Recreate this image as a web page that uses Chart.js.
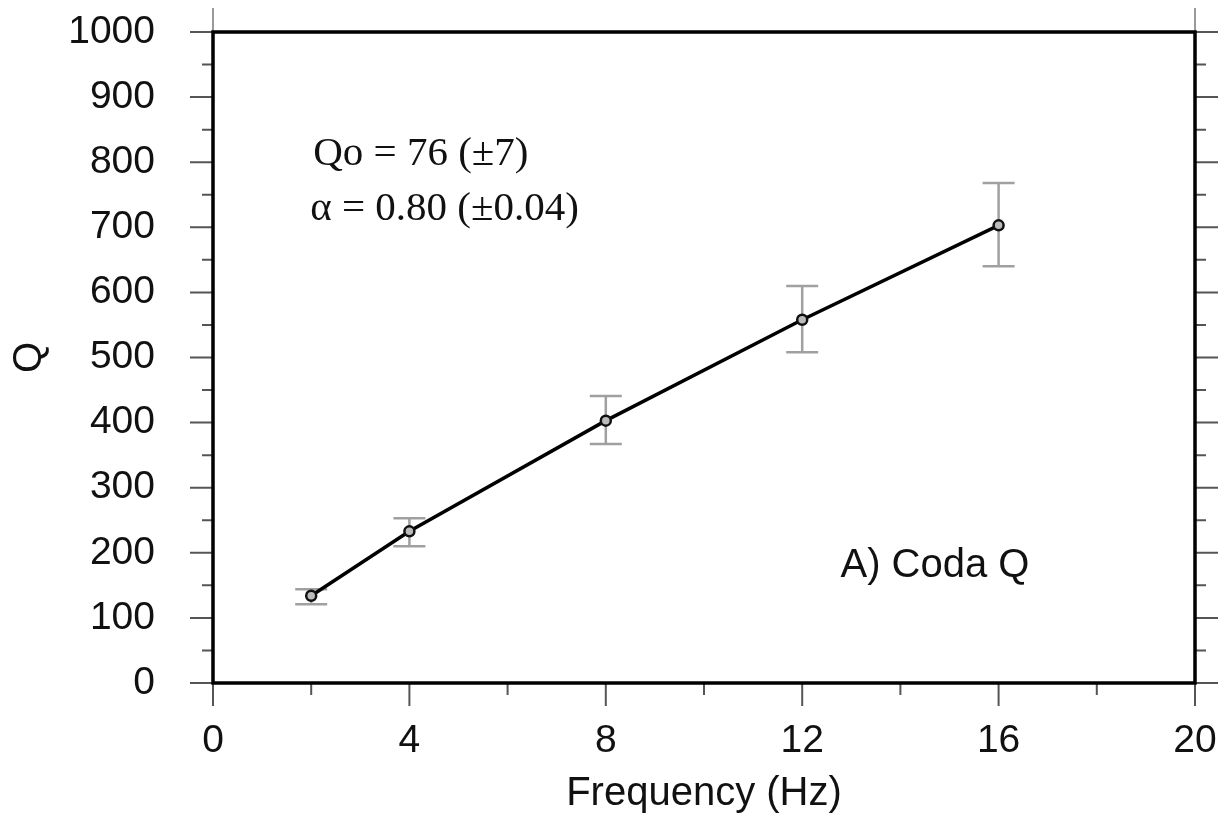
<!DOCTYPE html>
<html>
<head>
<meta charset="utf-8">
<script src="https://cdn.jsdelivr.net/npm/chart.js@4.4.1/dist/chart.umd.min.js"></script>
<style>
  html, body { margin: 0; padding: 0; background: #ffffff; }
  #wrap { width: 1226px; height: 820px; position: relative; }
</style>
</head>
<body>
<div id="wrap"><canvas id="c" width="1226" height="820"></canvas></div>
<script>
// ---- data ----
const frequencies = [2, 4, 8, 12, 16];
const qValues     = [134, 233, 403, 558, 703];
const qLower      = [121, 210, 367, 508, 640];
const qUpper      = [144, 253, 441, 610, 768];
const xTickLabels = [0, 4, 8, 12, 16, 20];
const yTickLabels = [0, 100, 200, 300, 400, 500, 600, 700, 800, 900, 1000];
const fitLines    = ["Qo = 76 (±7)", "α = 0.80 (±0.04)"];
const panelLabel  = "A) Coda Q";

const SANS = "'Liberation Sans', Arial, Helvetica, sans-serif";
const SERIF = "'Liberation Serif', 'Times New Roman', serif";

const errorBarPlugin = {
  id: 'errorBars',
  beforeDatasetsDraw(chart) {
    const ctx = chart.ctx, xs = chart.scales.x, ys = chart.scales.y;
    ctx.save();
    ctx.strokeStyle = '#a0a0a0';
    ctx.lineWidth = 2.5;
    frequencies.forEach((f, i) => {
      const px = xs.getPixelForValue(f);
      const pLo = ys.getPixelForValue(qLower[i]);
      const pHi = ys.getPixelForValue(qUpper[i]);
      ctx.beginPath();
      ctx.moveTo(px, pLo); ctx.lineTo(px, pHi);
      ctx.moveTo(px - 16, pLo); ctx.lineTo(px + 16, pLo);
      ctx.moveTo(px - 16, pHi); ctx.lineTo(px + 16, pHi);
      ctx.stroke();
    });
    ctx.restore();
  }
};

const frameTicksPlugin = {
  id: 'frameTicks',
  afterDraw(chart) {
    const ctx = chart.ctx, a = chart.chartArea;
    const xs = chart.scales.x, ys = chart.scales.y;
    ctx.save();
    // ticks
    ctx.strokeStyle = '#555';
    ctx.lineWidth = 2;
    ctx.beginPath();
    for (let v = 0; v <= 1000; v += 50) {
      const py = ys.getPixelForValue(v);
      const len = (v % 100 === 0) ? 23 : 11;
      ctx.moveTo(a.left - len, py); ctx.lineTo(a.left, py);
      ctx.moveTo(a.right, py); ctx.lineTo(a.right + len, py);
    }
    for (let v = 0; v <= 20; v += 2) {
      const px = xs.getPixelForValue(v);
      const len = (v % 4 === 0) ? 23 : 12;
      ctx.moveTo(px, a.bottom); ctx.lineTo(px, a.bottom + len);
    }
    ctx.stroke();
    ctx.strokeStyle = '#9a9a9a';
    ctx.beginPath();
    [0, 20].forEach(v => {
      const px = xs.getPixelForValue(v);
      ctx.moveTo(px, a.top - 24); ctx.lineTo(px, a.top);
    });
    ctx.stroke();
    // frame
    ctx.strokeStyle = '#000';
    ctx.lineWidth = 3.5;
    ctx.strokeRect(a.left, a.top, a.right - a.left, a.bottom - a.top);
    // annotations
    ctx.fillStyle = '#111';
    ctx.textBaseline = 'alphabetic';
    ctx.textAlign = 'left';
    ctx.font = "41px " + SERIF;
    ctx.fillText(fitLines[0], xs.getPixelForValue(2.04), ys.getPixelForValue(795));
    ctx.fillText(fitLines[1], xs.getPixelForValue(1.98), ys.getPixelForValue(711));
    ctx.font = "40px " + SANS;
    ctx.fillText(panelLabel, xs.getPixelForValue(12.78), ys.getPixelForValue(163));
    ctx.restore();
  }
};

new Chart(document.getElementById('c'), {
  type: 'line',
  data: {
    datasets: [{
      data: frequencies.map((f, i) => ({ x: f, y: qValues[i] })),
      borderColor: '#000',
      borderWidth: 3.5,
      pointRadius: 5,
      pointBorderWidth: 2.5,
      pointBorderColor: '#111',
      pointBackgroundColor: '#bbb',
      tension: 0,
      fill: false
    }]
  },
  options: {
    responsive: false,
    animation: false,
    devicePixelRatio: 1,
    layout: { padding: { top: 32, left: 0, right: 0, bottom: 0 } },
    plugins: { legend: { display: false }, tooltip: { enabled: false } },
    scales: {
      x: {
        type: 'linear', min: 0, max: 20,
        ticks: {
          stepSize: 2,
          autoSkip: false,
          maxRotation: 0,
          padding: 12,
          color: '#111',
          font: { family: SANS, size: 39 },
          callback: v => xTickLabels.includes(v) ? String(v) : ''
        },
        grid: { drawOnChartArea: false, tickLength: 23, tickColor: 'rgba(0,0,0,0)' },
        border: { display: false },
        title: {
          display: true, text: 'Frequency (Hz)', color: '#111',
          font: { family: SANS, size: 40 },
          padding: { top: 0, bottom: 2 }
        },
        afterFit: s => { s.height = 137; s.paddingLeft = 0; s.paddingRight = 0; }
      },
      y: {
        type: 'linear', min: 0, max: 1000, position: 'left',
        ticks: {
          stepSize: 50,
          autoSkip: false,
          padding: 35,
          color: '#111',
          font: { family: SANS, size: 39 },
          callback: v => yTickLabels.includes(v) ? String(v) : ''
        },
        grid: { drawOnChartArea: false, tickLength: 23, tickColor: 'rgba(0,0,0,0)' },
        border: { display: false },
        title: {
          display: true, text: 'Q', color: '#111',
          font: { family: SANS, size: 40 },
          padding: { top: 6, bottom: 0 }
        },
        afterFit: s => { s.width = 213; s.paddingTop = 0; s.paddingBottom = 0; }
      },
      y2: {
        type: 'linear', min: 0, max: 1000, position: 'right',
        ticks: { display: false },
        grid: { display: false },
        border: { display: false },
        afterFit: s => { s.width = 31; }
      }
    }
  },
  plugins: [errorBarPlugin, frameTicksPlugin]
});
</script>
</body>
</html>
